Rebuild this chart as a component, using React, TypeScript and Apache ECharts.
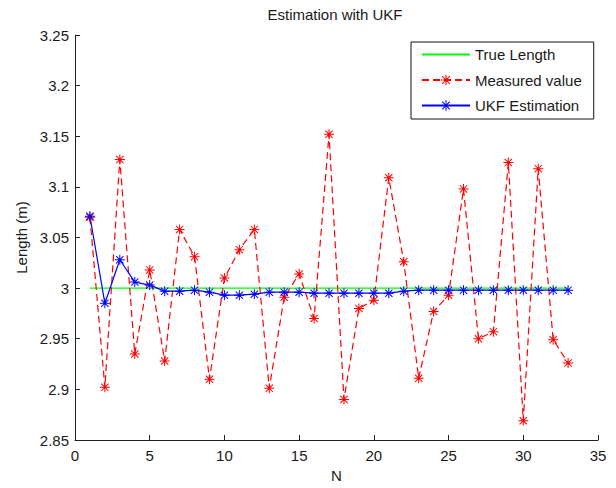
import React, { useEffect, useRef } from "react";
import * as echarts from "echarts";

const N: number[] = Array.from({ length: 33 }, (_, i) => i + 1);
const trueLength: number = 3.0;
const measured: number[] = [
  3.07, 2.902, 3.127, 2.935, 3.018, 2.928, 3.058, 3.031, 2.91, 3.01, 3.038,
  3.058, 2.901, 2.991, 3.014, 2.97, 3.152, 2.89, 2.98, 2.988, 3.109, 3.026,
  2.911, 2.977, 2.993, 3.098, 2.95, 2.957, 3.124, 2.869, 3.118, 2.949, 2.926,
];
const ukf: number[] = [
  3.071, 2.985, 3.028, 3.006, 3.003, 2.997, 2.997, 2.998, 2.996, 2.993, 2.993,
  2.994, 2.996, 2.996, 2.996, 2.995, 2.995, 2.995, 2.995, 2.995, 2.995, 2.997,
  2.998, 2.998, 2.998, 2.998, 2.998, 2.998, 2.998, 2.998, 2.998, 2.998, 2.998,
];
const seriesNames: string[] = ["True Length", "Measured value", "UKF Estimation"];

const STAR =
  "path://M9 0 H11 V20 H9 Z M0 9 H20 V11 H0 Z M2 3.4 L3.4 2 L18 16.6 L16.6 18 Z M16.6 2 L18 3.4 L3.4 18 L2 16.6 Z";

const FONT = "Arial, 'Liberation Sans', Helvetica, sans-serif";
const TXT = "#1a1a1a";

export default function App() {
  const ref = useRef<HTMLDivElement>(null);
  useEffect(() => {
    if (!ref.current) return;
    const chart = echarts.init(ref.current, null, { renderer: "svg" });
    chart.setOption({
      animation: false,
      backgroundColor: "#ffffff",
      title: {
        text: "Estimation with UKF",
        left: 330,
        textAlign: "center",
        top: 2,
        textStyle: { fontFamily: FONT, fontSize: 15, fontWeight: "normal", color: TXT },
      },
      legend: {
        data: [
          { name: seriesNames[0], itemStyle: { opacity: 0 } },
          { name: seriesNames[1] },
          { name: seriesNames[2] },
        ],
        orient: "vertical",
        left: 411,
        top: 42,
        padding: [5, 12, 6, 10],
        itemWidth: 48,
        itemHeight: 13,
        itemGap: 10.5,
        borderColor: "#111",
        borderWidth: 1,
        backgroundColor: "#fff",
        textStyle: { fontFamily: FONT, fontSize: 15, color: TXT, lineHeight: 13 },
      },
      grid: { left: 75, right: 18, top: 35, bottom: 44, containLabel: false },
      xAxis: {
        type: "value",
        min: 0,
        max: 35,
        interval: 5,
        name: "N",
        nameLocation: "middle",
        nameGap: 28,
        nameTextStyle: { fontFamily: FONT, fontSize: 15, color: TXT },
        axisLine: { show: true, onZero: false, lineStyle: { color: "#222", width: 1 } },
        axisTick: { show: true, inside: true, length: 5, lineStyle: { color: "#222" } },
        axisLabel: { fontFamily: FONT, fontSize: 15, color: TXT, margin: 8 },
        splitLine: { show: false },
      },
      yAxis: {
        type: "value",
        min: 2.85,
        max: 3.25,
        interval: 0.05,
        name: "Length (m)",
        nameLocation: "middle",
        nameGap: 45,
        nameRotate: 90,
        nameTextStyle: { fontFamily: FONT, fontSize: 15, color: TXT },
        axisLine: { show: true, onZero: false, lineStyle: { color: "#222", width: 1 } },
        axisTick: { show: true, inside: true, length: 5, lineStyle: { color: "#222" } },
        axisLabel: {
          fontFamily: FONT,
          fontSize: 15,
          color: TXT,
          margin: 6,
          formatter: (v: number) => String(+v.toFixed(2)),
        },
        splitLine: { show: false },
      },
      series: [
        {
          name: seriesNames[0],
          type: "line",
          data: [
            [N[0], trueLength],
            [N[N.length - 1], trueLength],
          ],
          symbol: "none",
          lineStyle: { color: "#00ff00", width: 1.2 },
          itemStyle: { color: "#00ff00" },
        },
        {
          name: seriesNames[1],
          type: "line",
          data: N.map((n, i) => [n, measured[i]]),
          symbol: STAR,
          symbolSize: 10,
          lineStyle: { color: "#ff0000", width: 1.2, type: [7, 4] },
          itemStyle: { color: "#ff0000" },
        },
        {
          name: seriesNames[2],
          type: "line",
          data: N.map((n, i) => [n, ukf[i]]),
          symbol: STAR,
          symbolSize: 10,
          lineStyle: { color: "#0000ff", width: 1.2 },
          itemStyle: { color: "#0000ff" },
        },
      ],
    });
    return () => chart.dispose();
  }, []);
  return (
    <div
      ref={ref}
      style={{ position: "fixed", left: 0, top: 0, width: 616, height: 488 }}
    />
  );
}
